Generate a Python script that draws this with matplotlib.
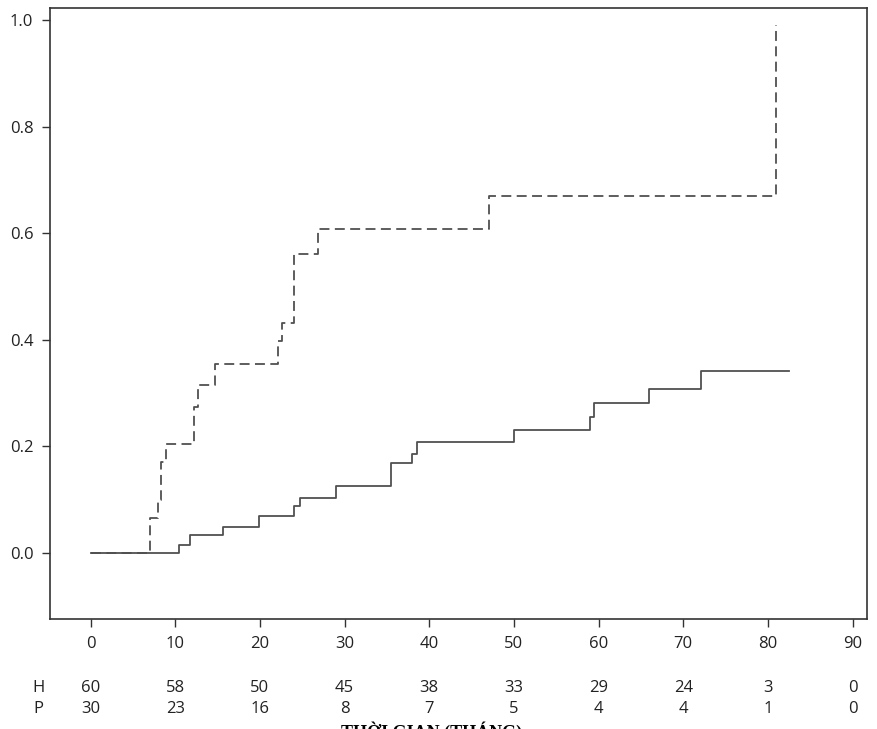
import matplotlib
matplotlib.use("Agg")
import matplotlib.pyplot as plt

plt.rcParams['font.family'] = ['Open Sans', 'DejaVu Sans']

# cumulative incidence
t_h = [0, 10.4, 11.7, 15.6, 19.9, 24.0, 24.7, 29.0, 35.5, 38.0, 38.6, 50.0, 59.0, 59.5, 66.0, 72.1, 82.5]
v_h = [0, 0.015, 0.033, 0.048, 0.069, 0.088, 0.104, 0.125, 0.168, 0.186, 0.209, 0.231, 0.256, 0.282, 0.307, 0.342, 0.342]

t_p = [0, 7.0, 8.0, 8.35, 8.9, 12.2, 12.7, 14.7, 22.1, 22.6, 24.0, 26.9, 47.0, 81.0]
v_p = [0, 0.065, 0.10, 0.17, 0.205, 0.274, 0.315, 0.354, 0.397, 0.431, 0.561, 0.609, 0.670, 0.991]

# numbers at risk
risk_times = [0, 10, 20, 30, 40, 50, 60, 70, 80, 90]
risk_h = [60, 58, 50, 45, 38, 33, 29, 24, 3, 0]
risk_p = [30, 23, 16, 8, 7, 5, 4, 4, 1, 0]
row_labels = ["H", "P"]

y_ticks = [0.0, 0.2, 0.4, 0.6, 0.8, 1.0]

fig = plt.figure(figsize=(8.77, 7.29), dpi=100)
ax = fig.add_axes([50 / 877, 1 - 619 / 729, (867 - 50) / 877, (619 - 8) / 729])

line_col = "#505050"
ax.step(t_h, v_h, where="post", color=line_col, lw=1.3)
ax.step(t_p, v_p, where="post", color=line_col, lw=1.3, dashes=(5.5, 3))

ax.set_xlim(-4.8, 91.7)
ax.set_ylim(-0.124, 1.023)
ax.set_xticks(risk_times)
ax.set_yticks(y_ticks)
ax.set_yticklabels([f"{v:.1f}" for v in y_ticks])
for s in ax.spines.values():
    s.set_color("#333333")
    s.set_linewidth(1.2)
ax.tick_params(axis="both", direction="out", length=6, width=1.0, color="#333333",
               labelsize=12, labelcolor="#222222")
ax.tick_params(axis="y", pad=6)
ax.tick_params(axis="x", pad=6)

# risk table below the axis
for rows, lab, ypx in [(risk_h, row_labels[0], 688), (risk_p, row_labels[1], 709)]:
    yfig = 1 - ypx / 729
    fig.text(38 / 877, yfig, lab, ha="center", va="center", fontsize=12, color="#222222")
    for t, n in zip(risk_times, rows):
        xd = ax.transData.transform((t, 0))[0]
        xf = fig.transFigure.inverted().transform((xd, 0))[0]
        fig.text(xf, yfig, str(n), ha="center", va="center", fontsize=12, color="#222222")

# axis title, cut off at the bottom edge in the original
fig.text(432 / 877, 0.010, "THỜI GIAN (THÁNG)", ha="center", va="top",
         fontsize=13, fontweight="bold", family=["Liberation Serif", "DejaVu Serif"])

fig.savefig("out.png", dpi=100)
